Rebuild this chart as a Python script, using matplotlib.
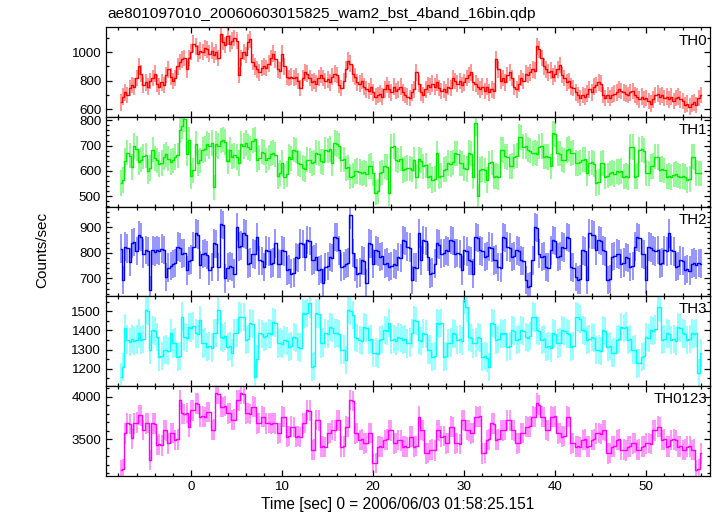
import numpy as np
import matplotlib
matplotlib.use("Agg")
import matplotlib.pyplot as plt
from matplotlib.ticker import MultipleLocator

plt.rcParams['font.family'] = ['Liberation Sans', 'DejaVu Sans']

title = "ae801097010_20060603015825_wam2_bst_4band_16bin.qdp"
xlabel = "Time [sec] 0 = 2006/06/03 01:58:25.151"
ylabel = "Counts/sec"
bands = ["TH0", "TH1", "TH2", "TH3", "TH0123"]
colors = ["#ff0000", "#00ee00", "#0000ff", "#00ffff", "#ff00ff"]

t_start = -7.75
bin_width = 0.25

th0 = [
650,690,720,700,750,770,760,820,900,850,
770,790,760,800,820,850,780,760,790,770,
840,880,830,800,820,900,930,950,960,880,
960,1000,1060,1040,990,1010,1000,1030,1020,990,
1010,980,1000,960,1130,1070,1050,1110,1060,1080,
1100,1080,840,960,1000,980,1070,1090,930,900,
880,860,890,900,890,920,960,990,950,880,
870,990,900,830,820,830,820,830,800,750,
820,860,850,820,790,800,780,820,840,820,
800,810,790,830,850,840,770,750,800,880,
940,920,850,830,790,780,800,760,740,730,
760,720,690,700,710,690,740,770,740,720,
760,730,740,760,720,700,690,680,
720,740,860,780,720,700,740,770,760,780,
760,790,750,730,740,720,760,750,820,800,
780,800,770,790,820,840,860,790,780,760,
740,760,730,760,720,740,730,950,880,800,
820,790,840,860,820,760,740,780,820,800,
850,840,860,880,870,1040,1020,960,900,880,
860,870,830,850,880,910,840,820,790,800,
760,750,720,700,680,700,690,710,740,720,
760,770,790,780,700,680,700,680,700,710,
720,740,730,720,710,700,720,730,700,690,
670,690,670,680,660,640,670,700,710,690,
700,680,690,670,690,660,680,690,670,660,
630,640,620,640,650,630,680,700]

th1 = [
552,565,640,672,660,615,698,688,635,645,
658,662,598,612,684,650,642,626,632,655,
665,648,636,642,655,662,760,776,805,668,
722,580,602,708,632,642,682,686,708,698,
710,535,706,698,720,724,714,638,682,656,
662,655,632,708,698,710,695,688,720,725,
645,652,676,672,642,652,668,672,664,580,
592,632,578,588,656,648,684,680,632,628,
612,608,645,642,630,634,672,668,638,636,
684,680,686,630,710,706,698,644,646,610,
614,578,582,598,600,596,590,594,588,618,
620,590,515,520,590,594,618,616,512,696,
698,644,640,648,604,608,612,610,
605,644,578,646,640,618,622,578,582,565,
568,670,578,582,605,608,632,628,634,670,
668,632,630,612,608,672,668,578,788,500,
604,608,602,565,630,634,578,580,576,684,
682,658,655,618,620,657,660,735,732,696,
698,684,680,670,672,668,696,698,656,658,
655,618,748,745,670,668,645,642,683,686,
670,672,632,630,634,644,646,591,630,634,
628,552,556,630,632,578,582,590,594,588,
598,596,600,578,580,576,696,694,578,580,
683,686,680,592,590,618,620,657,655,605,
608,602,578,580,576,585,588,582,578,580,
576,565,568,657,655,592,590,590]

th2 = [
817,693,824,818,765,837,842,808,869,862,
797,812,806,654,810,805,812,808,817,812,
706,742,748,756,760,824,820,797,800,732,
768,774,824,876,872,752,795,800,792,732,
745,837,834,745,915,910,700,742,748,744,
719,902,824,828,876,872,758,762,797,794,
863,771,768,745,810,806,758,762,837,758,
756,810,806,732,735,719,722,784,780,837,
834,784,850,846,771,774,784,732,736,680,
745,748,784,780,863,860,810,745,748,758,
762,950,800,745,719,722,771,768,680,837,
834,758,810,806,784,788,758,762,745,748,
758,754,784,780,850,846,824,820,
693,745,742,876,771,850,846,784,719,722,
758,837,832,797,800,810,806,850,846,797,
800,795,732,810,806,771,768,719,863,858,
810,806,784,788,824,820,771,774,745,742,
863,858,824,820,784,788,810,806,771,768,
693,667,670,771,902,898,797,784,788,745,
742,810,850,846,784,788,824,820,863,858,
745,742,706,693,696,810,806,693,876,872,
870,810,850,846,810,806,693,698,784,788,
797,794,758,762,784,780,745,748,824,863,
858,797,794,693,824,820,810,806,812,758,
762,810,806,876,810,806,745,748,771,768,
732,736,730,758,762,754,760,758]

th3 = [
1157,1210,1410,1352,1340,1356,1346,1352,1384,1348,
1354,1506,1500,1297,1402,1398,1367,1262,1266,1297,
1300,1292,1384,1332,1336,1262,1266,1472,1367,1362,
1419,1415,1422,1384,1380,1454,1332,1336,1314,1318,
1310,1384,1388,1506,1367,1362,1370,1314,1318,1280,
1384,1388,1472,1468,1470,1350,1354,1437,1432,1157,
1250,1384,1380,1367,1370,1384,1380,1445,1440,1332,
1336,1330,1350,1346,1314,1318,1367,1362,1314,1310,
1489,1485,1490,1541,1210,1215,1489,1484,1332,1336,
1384,1380,1419,1414,1384,1388,1380,1297,1300,1245,
1506,1500,1480,1367,1362,1350,1346,1419,1414,1350,
1354,1280,1284,1276,1350,1354,1402,1398,1437,1350,
1354,1346,1367,1362,1350,1354,1332,1336,
1384,1454,1448,1350,1346,1384,1380,1297,1300,1262,
1266,1437,1432,1440,1262,1266,1332,1336,1384,1380,
1350,1354,1346,1559,1520,1367,1362,1332,1336,1367,
1362,1262,1266,1258,1210,1437,1432,1350,1354,1384,
1380,1388,1314,1318,1402,1398,1350,1354,1402,1398,
1367,1362,1370,1472,1468,1402,1398,1350,1354,1314,
1318,1310,1384,1380,1332,1336,1402,1398,1384,1380,
1314,1318,1472,1468,1460,1402,1398,1350,1354,1367,
1362,1297,1300,1294,1402,1398,1314,1318,1280,1284,
1350,1354,1419,1414,1420,1350,1354,1297,1300,1227,
1230,1262,1266,1367,1362,1402,1398,1405,1524,1520,
1350,1354,1384,1380,1350,1354,1346,1419,1414,1384,
1380,1350,1354,1384,1380,1388,1175,1280]

th0123 = [
3141,3150,3570,3688,3680,3512,3688,3695,3785,3780,
3609,3688,3692,3258,3688,3684,3434,3440,3430,3609,
3604,3453,3570,3575,3492,3498,3961,3805,3800,3810,
3648,3844,3840,3922,3918,3766,3770,3762,3824,3820,
3609,3614,4039,4030,3883,3878,3888,3805,3810,3727,
3732,3961,3956,4039,4030,3805,3810,3800,3883,3878,
3688,3692,3766,3760,3688,3692,3684,3690,3688,3570,
3575,3766,3760,3531,3536,3648,3644,3531,3536,3528,
3688,3692,3844,3838,3375,3380,3727,3722,3414,3418,
3410,3570,3575,3609,3604,3727,3722,3414,3418,3648,
3644,3961,3950,3570,3575,3492,3498,3453,3458,3570,
3575,3219,3225,3414,3418,3410,3492,3498,3609,3604,
3453,3458,3492,3488,3414,3418,3410,3531,
3531,3414,3420,3766,3609,3604,3336,3340,3375,3380,
3370,3609,3604,3531,3536,3453,3458,3648,3644,3453,
3458,3448,3727,3722,3609,3604,3570,3575,3766,3760,
3770,3336,3340,3492,3498,3688,3684,3492,3498,3609,
3604,3612,3727,3722,3609,3604,3453,3458,3570,3575,
3648,3644,3652,3766,3760,3922,3900,3766,3760,3609,
3604,3766,3760,3770,3570,3575,3531,3536,3766,3760,
3453,3458,3414,3418,3410,3492,3498,3414,3418,3492,
3498,3570,3575,3565,3609,3604,3336,3340,3414,3418,
3492,3498,3375,3380,3370,3414,3418,3453,3458,3375,
3380,3414,3418,3453,3458,3448,3609,3604,3648,3644,
3492,3498,3414,3418,3492,3498,3488,3414,3418,3375,
3380,3414,3418,3375,3380,3141,3150,3336]

errors = [58, 50, 56, 74, 120]
series = [th0, th1, th2, th3, th0123]
ylims = [(549, 1174), (459, 814), (631, 981), (1109, 1580), (3073, 4126)]
ymajor = [200, 100, 100, 100, 500]
yminor = [100, 20, 20, 50, 100]
xlim = (-9.36, 57.0)

W, H = 717, 516
fig = plt.figure(figsize=(W / 100, H / 100), dpi=100)
left_px, right_px = 106, 710
edges = [27.3, 116.7, 206.7, 296.0, 386.0, 475.7]

for k, (name, vals) in enumerate(zip(bands, series)):
    top, bot = edges[k], edges[k + 1]
    ax = fig.add_axes([left_px / W, 1 - bot / H, (right_px - left_px) / W, (bot - top) / H])
    y = np.array(vals, dtype=float)
    t = t_start + bin_width * np.arange(len(y))
    ax.errorbar(t, y, yerr=errors[k], fmt='none', ecolor=colors[k], elinewidth=1.3, alpha=0.45)
    ax.step(t, y, where='mid', color=colors[k], lw=1.0)
    ax.set_xlim(*xlim)
    ax.set_ylim(*ylims[k])
    ax.xaxis.set_major_locator(MultipleLocator(10))
    ax.xaxis.set_minor_locator(MultipleLocator(2))
    ax.yaxis.set_major_locator(MultipleLocator(ymajor[k]))
    ax.yaxis.set_minor_locator(MultipleLocator(yminor[k]))
    ax.tick_params(which='both', direction='in', top=True, right=True, width=0.9, labelsize=9.6)
    ax.tick_params(which='major', length=4)
    ax.tick_params(which='minor', length=2)
    for s in ax.spines.values():
        s.set_linewidth(0.9)
    if k < 4:
        ax.tick_params(labelbottom=False)
    ax.text(0.995, 0.93, name, transform=ax.transAxes, ha='right', va='top', fontsize=10.8)

fig.text(107 / W, 1 - 14 / H, title, ha='left', va='center', fontsize=11.1)
fig.text(42 / W, 1 - 250 / H, ylabel, rotation=90, ha='center', va='center', fontsize=11)
fig.text(398 / W, 1 - 504 / H, xlabel, ha='center', va='center', fontsize=11.2)

fig.savefig("out.png", dpi=100)
